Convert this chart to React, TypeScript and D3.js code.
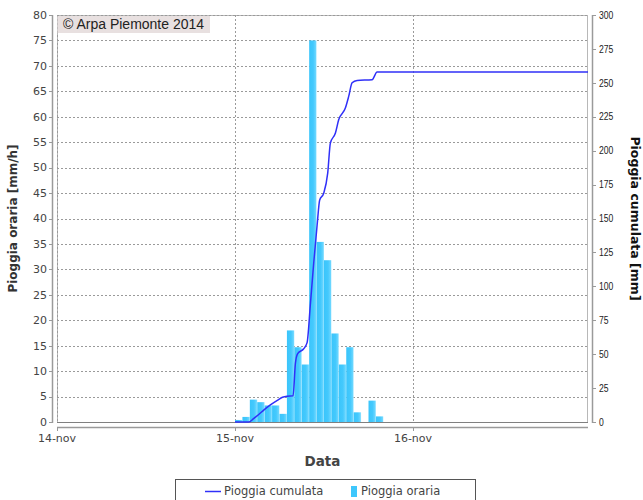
import React from 'react';
import * as d3 from 'd3';

// ---------- data ----------
const dayTickLabels = ['14-nov', '15-nov', '16-nov'];
const dayTickDates = [new Date(2014, 10, 14), new Date(2014, 10, 15), new Date(2014, 10, 16)];
const leftTickValues = [0, 5, 10, 15, 20, 25, 30, 35, 40, 45, 50, 55, 60, 65, 70, 75, 80];
const rightTickValues = [0, 25, 50, 75, 100, 125, 150, 175, 200, 225, 250, 275, 300];

// hourly rain (mm/h) for hours starting at 15-nov 00:00
const hourlyStartHour = [0, 1, 2, 3, 4, 5, 6, 7, 8, 9, 10, 11, 12, 13, 14, 15, 16, 17, 18, 19];
const hourlyRain = [0.4, 1.0, 4.4, 3.9, 3.25, 3.25, 1.6, 18.0, 14.7, 11.3, 75.0, 35.4, 31.8, 17.4, 11.3, 14.7, 1.9, 0, 4.2, 1.1];

// cumulated rain (mm), hours after 15-nov 00:00
const cumHours = [0, 1.85, 2.5, 3.2, 3.87, 4.77, 5.76, 6.4, 7.02, 7.83, 8.14, 8.45, 9.26, 9.72, 10.17, 10.61, 11.07, 11.42, 11.96, 12.5, 12.86, 13.54, 13.98, 14.88, 15.33, 15.79, 16.46, 18.48, 19.16, 47.6];
const cumValues = [0, 0, 2.5, 5.5, 8.8, 12.6, 16.2, 18.2, 19.0, 19.3, 43, 50.4, 54, 58.5, 87.3, 117, 145, 163.7, 168.6, 183.4, 205.6, 213, 222.8, 231.4, 240, 250, 251.8, 252.3, 258, 258];

// ---------- layout ----------
const W = 643;
const H = 500;
const PL = 57;
const PR = 588;
const PT = 15;
const PB = 422;

const base = new Date(2014, 10, 15).getTime();
const hourToDate = (h: number) => new Date(base + h * 3600e3);

export default function App() {
  const x = d3.scaleTime().domain([new Date(2014, 10, 14), new Date(2014, 10, 17)]).range([PL, 591]);
  const yL = d3.scaleLinear().domain([0, 80]).range([PB, PT]);
  const yR = d3.scaleLinear().domain([0, 300]).range([PB, PT]);

  const line = d3
    .line<number>()
    .x((_, i) => x(hourToDate(cumHours[i])))
    .y((v) => yR(v))
    .curve(d3.curveMonotoneX);

  const tickFont = '"DejaVu Sans", sans-serif';

  return (
    <svg width={W} height={H} style={{ display: 'block', position: 'absolute', left: 0, top: 0 }}>
      <defs>
        <clipPath id="plotclip">
          <rect x={PL} y={PT - 1} width={PR - PL} height={PB - PT + 2} />
        </clipPath>
        <linearGradient id="bargrad" x1="0" y1="0" x2="1" y2="0">
          <stop offset="0" stopColor="#3ac5fb" />
          <stop offset="0.55" stopColor="#44c9fd" />
          <stop offset="0.88" stopColor="#6ad6ff" />
          <stop offset="1" stopColor="#b0eaff" />
        </linearGradient>
      </defs>
      <rect x={0} y={0} width={W} height={H} fill="#ffffff" />
      {/* plot outline */}
      <rect x={PL + 0.5} y={PT + 0.5} width={PR - PL - 1} height={PB - PT} fill="#ffffff" stroke="#b8b8b8" strokeWidth={1} />
      {/* horizontal grid */}
      {leftTickValues.map((v) => (
        <line key={'hg' + v} x1={PL} x2={PR} y1={Math.round(yL(v)) + 0.5} y2={Math.round(yL(v)) + 0.5} stroke="#9a9a9a" strokeWidth={1} strokeDasharray="2,2" />
      ))}
      {/* vertical grid */}
      {dayTickDates.map((d, i) => (
        <line key={'vg' + i} x1={Math.round(x(d)) + 0.5} x2={Math.round(x(d)) + 0.5} y1={PT} y2={PB} stroke="#9a9a9a" strokeWidth={1} strokeDasharray="2,2" />
      ))}
      <g clipPath="url(#plotclip)">
        {hourlyRain.map((v, i) => {
          const x0 = x(hourToDate(hourlyStartHour[i]));
          const x1 = x(hourToDate(hourlyStartHour[i] + 1));
          if (v <= 0) return null;
          return <rect key={'b' + i} x={x0} y={yL(v)} width={x1 - x0} height={yL(0) - yL(v)} fill="url(#bargrad)" />;
        })}
        <line x1={PL} x2={PR} y1={PB + 0.5} y2={PB + 0.5} stroke="#808080" strokeWidth={1} />
        <path d={line(cumValues) || ''} fill="none" stroke="#3030f8" strokeWidth={1.5} />
      </g>

      {/* left axis */}
      <line x1={52.5} x2={52.5} y1={PT} y2={PB + 1} stroke="#9a9a9a" strokeWidth={1.5} />
      {leftTickValues.map((v) => (
        <g key={'lt' + v}>
          <line x1={49} x2={52} y1={Math.round(yL(v)) + 0.5} y2={Math.round(yL(v)) + 0.5} stroke="#9a9a9a" />
          <text x={47} y={yL(v)} dy="0.35em" textAnchor="end" fontFamily={tickFont} fontSize={11} fill="#444">
            {v}
          </text>
        </g>
      ))}
      <text transform={`translate(17,${(PT + PB) / 2}) rotate(-90)`} textAnchor="middle" fontFamily={tickFont} fontWeight="bold" fontSize={12} fill="#333">
        Pioggia oraria [mm/h]
      </text>

      {/* bottom axis */}
      <line x1={PL} x2={PR} y1={427.5} y2={427.5} stroke="#9a9a9a" strokeWidth={1.5} />
      {dayTickDates.map((d, i) => (
        <g key={'bt' + i}>
          <line x1={Math.round(x(d)) + 0.5} x2={Math.round(x(d)) + 0.5} y1={428} y2={431} stroke="#9a9a9a" />
          <text x={x(d)} y={442} textAnchor="middle" fontFamily={tickFont} fontSize={11} fill="#444">
            {dayTickLabels[i]}
          </text>
        </g>
      ))}
      <text x={(PL + PR) / 2} y={466} textAnchor="middle" fontFamily={tickFont} fontWeight="bold" fontSize={13.5} fill="#444">
        Data
      </text>

      {/* right axis */}
      <line x1={592.5} x2={592.5} y1={PT} y2={PB + 1} stroke="#9a9a9a" strokeWidth={1.5} />
      {rightTickValues.map((v) => (
        <g key={'rt' + v}>
          <line x1={593} x2={596} y1={Math.round(yR(v)) + 0.5} y2={Math.round(yR(v)) + 0.5} stroke="#9a9a9a" />
          <text transform={`translate(599,${yR(v)}) scale(0.82,1)`} dy="0.35em" fontFamily='"Liberation Sans", sans-serif' fontSize={10.5} fill="#222">
            {v}
          </text>
        </g>
      ))}
      <text transform={`translate(631,${(PT + PB) / 2}) rotate(90)`} textAnchor="middle" fontFamily={tickFont} fontWeight="bold" fontSize={12.5} fill="#111">
        Pioggia cumulata [mm]
      </text>

      {/* copyright */}
      <rect x={57.5} y={16} width={152.5} height={17} fill="#e8e0e0" />
      <text x={63} y={29} fontFamily='"Liberation Sans", Arial, sans-serif' fontSize={14} fill="#222">
        © Arpa Piemonte 2014
      </text>

      {/* legend */}
      <rect x={175.5} y={479.5} width={300} height={30} fill="#ffffff" stroke="#555" strokeWidth={1} />
      <line x1={205} x2={221} y1={491.5} y2={491.5} stroke="#3030f8" strokeWidth={1.5} />
      <text x={224} y={495} fontFamily={tickFont} fontSize={11.5} fill="#444">
        Pioggia cumulata
      </text>
      <rect x={351} y={486} width={6} height={11} fill="#3ec7fc" />
      <text x={361} y={495} fontFamily={tickFont} fontSize={11.5} fill="#444">
        Pioggia oraria
      </text>
    </svg>
  );
}
